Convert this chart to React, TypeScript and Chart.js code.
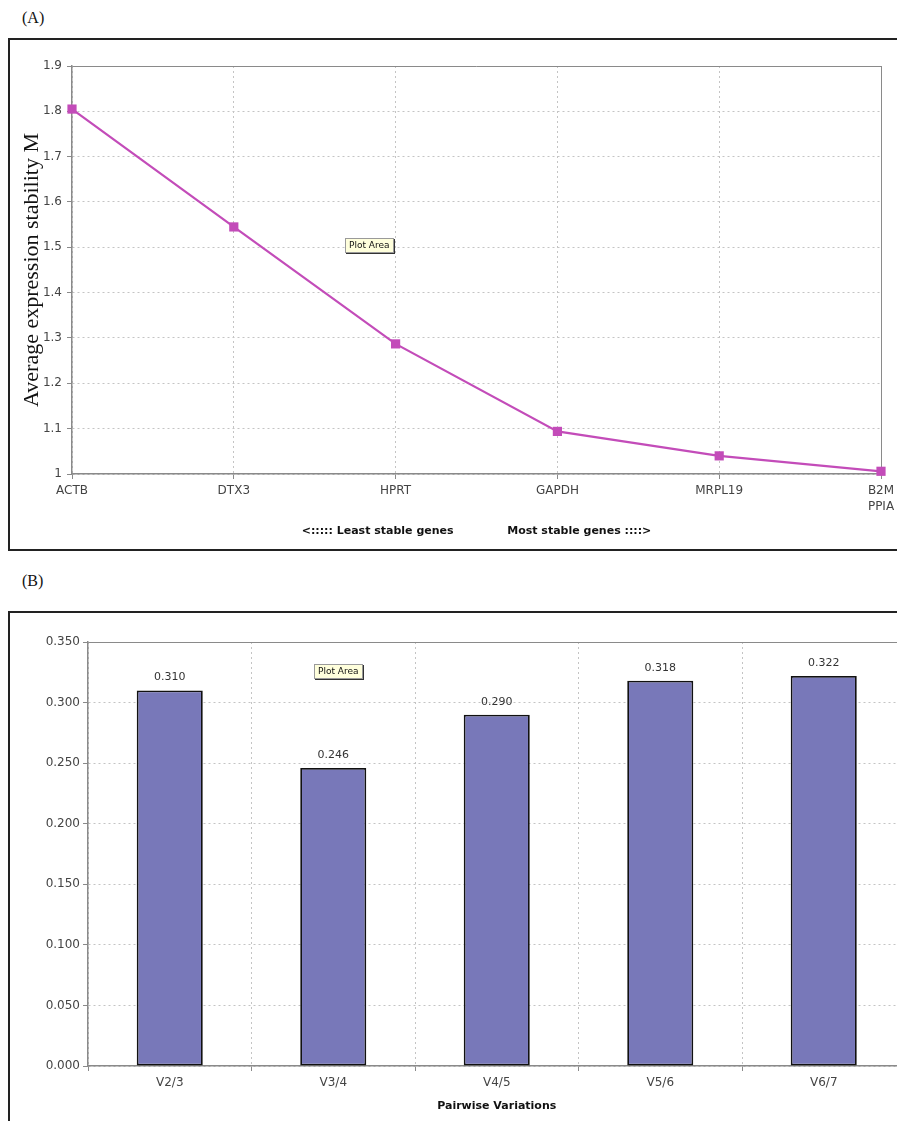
import React, { useEffect, useRef } from "react";
import { Chart, registerables } from "chart.js";

Chart.register(...registerables);

const geneLabels: (string | string[])[] = ["ACTB", "DTX3", "HPRT", "GAPDH", "MRPL19", ["B2M", "PPIA"]];
const stabilityM: number[] = [1.805, 1.545, 1.287, 1.094, 1.04, 1.006];
const yTicksA = { min: 1, max: 1.9, step: 0.1 };

const pairLabels: string[] = ["V2/3", "V3/4", "V4/5", "V5/6", "V6/7"];
const pairValues: number[] = [0.31, 0.246, 0.29, 0.318, 0.322];
const yTicksB = { min: 0, max: 0.35, step: 0.05 };

const SANS = "'DejaVu Sans', Verdana, sans-serif";
const GRID = "#c4c4c4";
const AXIS = "#8a8a8a";
const TICKTXT = "#444";

const valueLabelPlugin = {
  id: "valueLabels",
  afterDatasetsDraw(chart: any) {
    const ctx = chart.ctx;
    const meta = chart.getDatasetMeta(0);
    const data = chart.data.datasets[0].data as number[];
    ctx.save();
    ctx.font = `11px ${SANS}`;
    ctx.fillStyle = "#333";
    ctx.textAlign = "center";
    ctx.textBaseline = "middle";
    meta.data.forEach((el: any, i: number) => {
      ctx.fillText(data[i].toFixed(3), el.x, el.y - 13);
    });
    ctx.restore();
  },
};

function LineChartA() {
  const ref = useRef<HTMLCanvasElement>(null);
  useEffect(() => {
    const last = geneLabels.length - 1;
    const chart = new Chart(ref.current!, {
      type: "line",
      data: {
        labels: geneLabels as any,
        datasets: [
          {
            data: stabilityM,
            borderColor: "#c34cb9",
            backgroundColor: "#c34cb9",
            borderWidth: 2.2,
            pointStyle: "rect",
            pointRadius: 6.5,
            pointBorderWidth: 0,
            pointBackgroundColor: "#c34cb9",
            tension: 0,
            clip: false as any,
          },
        ],
      },
      options: {
        animation: false,
        responsive: false,
        devicePixelRatio: 1,
        layout: { padding: { top: 26, right: 29, left: 0, bottom: 0 } },
        plugins: { legend: { display: false }, tooltip: { enabled: false } },
        scales: {
          x: {
            type: "category",
            offset: false,
            afterFit: (s: any) => {
              s.height = 75;
            },
            grid: {
              color: (c: any) => (c.index === last ? AXIS : GRID),
              lineWidth: 1,
              tickLength: 5,
              tickColor: AXIS,
            },
            border: {
              color: AXIS,
              width: 1.5,
              dash: (c: any) => (c.index === last ? [] : [2, 3]),
            } as any,
            ticks: {
              font: { family: SANS, size: 12, lineHeight: 1.4 },
              color: TICKTXT,
              padding: 3,
              maxRotation: 0,
              autoSkip: false,
            },
            title: {
              display: true,
              text: "<::::: Least stable genes              Most stable genes ::::>",
              font: { family: SANS, size: 11, weight: "bold" },
              color: "#111",
              padding: { top: 0, bottom: 11.4 },
            },
          },
          y: {
            min: yTicksA.min,
            max: yTicksA.max,
            afterFit: (s: any) => {
              s.width = 62;
            },
            grid: {
              color: (c: any) => (c.tick && Math.abs(c.tick.value - yTicksA.max) < 1e-6 ? AXIS : GRID),
              lineWidth: 1,
              tickLength: 5,
              tickColor: AXIS,
            },
            border: {
              color: AXIS,
              width: 1.5,
              dash: (c: any) => (c.tick && Math.abs(c.tick.value - yTicksA.max) < 1e-6 ? [] : [2, 3]),
            } as any,
            ticks: {
              stepSize: yTicksA.step,
              font: { family: SANS, size: 12 },
              color: TICKTXT,
              padding: 5,
              callback: (v: any) => String(Math.round(Number(v) * 10) / 10),
            },
            title: {
              display: true,
              text: "Average expression stability M",
              font: { family: "'Liberation Serif', 'Times New Roman', serif", size: 22 },
              color: "#111",
              padding: { top: 9, bottom: 0 },
            },
          },
        },
      },
    });
    return () => chart.destroy();
  }, []);
  return <canvas ref={ref} width={900} height={509} style={{ display: "block" }} />;
}

function BarChartB() {
  const ref = useRef<HTMLCanvasElement>(null);
  useEffect(() => {
    const chart = new Chart(ref.current!, {
      type: "bar",
      data: {
        labels: pairLabels,
        datasets: [
          {
            data: pairValues,
            backgroundColor: "#7878b9",
            borderColor: "#111",
            borderWidth: 1.8,
            borderSkipped: false,
            categoryPercentage: 1,
            barPercentage: 0.404,
          },
        ],
      },
      options: {
        animation: false,
        responsive: false,
        devicePixelRatio: 1,
        layout: { padding: { top: 29, right: 4.5, left: 0, bottom: 0 } },
        plugins: { legend: { display: false }, tooltip: { enabled: false } },
        scales: {
          x: {
            afterFit: (s: any) => {
              s.height = 57;
            },
            grid: {
              color: GRID,
              lineWidth: 1,
              tickLength: 5,
              tickColor: AXIS,
              offset: true,
            },
            border: { color: AXIS, width: 1.5, dash: [2, 3] } as any,
            ticks: {
              font: { family: SANS, size: 12 },
              color: TICKTXT,
              padding: 5,
              maxRotation: 0,
            },
            title: {
              display: true,
              text: "Pairwise Variations",
              font: { family: SANS, size: 11, weight: "bold" },
              color: "#111",
              padding: { top: 0, bottom: 10.4 },
            },
          },
          y: {
            min: yTicksB.min,
            max: yTicksB.max,
            afterFit: (s: any) => {
              s.width = 78;
            },
            grid: {
              color: (c: any) => (c.tick && Math.abs(c.tick.value - yTicksB.max) < 1e-6 ? AXIS : GRID),
              lineWidth: 1,
              tickLength: 5,
              tickColor: AXIS,
            },
            border: {
              color: AXIS,
              width: 1.5,
              dash: (c: any) => (c.tick && Math.abs(c.tick.value - yTicksB.max) < 1e-6 ? [] : [2, 3]),
            } as any,
            ticks: {
              stepSize: yTicksB.step,
              font: { family: SANS, size: 12 },
              color: TICKTXT,
              padding: 3,
              callback: (v: any) => Number(v).toFixed(3),
            },
          },
        },
      },
      plugins: [valueLabelPlugin],
    });
    return () => chart.destroy();
  }, []);
  return <canvas ref={ref} width={900} height={510} style={{ display: "block" }} />;
}

const tipStyle: React.CSSProperties = {
  position: "absolute",
  background: "#ffffdc",
  border: "1px solid #9a9a9a",
  boxShadow: "1px 1px 0 #333",
  fontFamily: SANS,
  fontSize: 9,
  color: "#111",
  lineHeight: "13px",
  padding: "0 3px",
  whiteSpace: "nowrap",
  boxSizing: "border-box",
};

const panelLabel: React.CSSProperties = {
  position: "absolute",
  left: 14,
  fontFamily: "'Liberation Serif', 'Times New Roman', serif",
  fontSize: 16,
  lineHeight: "18px",
  color: "#111",
};

const boxStyle: React.CSSProperties = {
  position: "absolute",
  left: 0,
  width: 960,
  border: "2px solid #222",
  boxSizing: "border-box",
  background: "#fff",
  overflow: "hidden",
};

export default function App() {
  useEffect(() => {
    document.documentElement.style.overflow = "hidden";
  }, []);
  return (
    <div
      style={{
        position: "fixed",
        left: 8,
        top: 8,
        width: 889,
        height: 1113,
        overflow: "hidden",
        background: "#fff",
      }}
    >
      <div style={{ ...panelLabel, top: 1 }}>(A)</div>
      <div style={{ ...boxStyle, top: 30, height: 513 }}>
        <LineChartA />
      </div>
      <div style={{ ...tipStyle, left: 337, top: 230, width: 49, height: 15 }}>Plot Area</div>
      <div style={{ ...panelLabel, top: 564 }}>(B)</div>
      <div style={{ ...boxStyle, top: 603, height: 530 }}>
        <BarChartB />
      </div>
      <div style={{ ...tipStyle, left: 306, top: 656, width: 49, height: 15 }}>Plot Area</div>
    </div>
  );
}
